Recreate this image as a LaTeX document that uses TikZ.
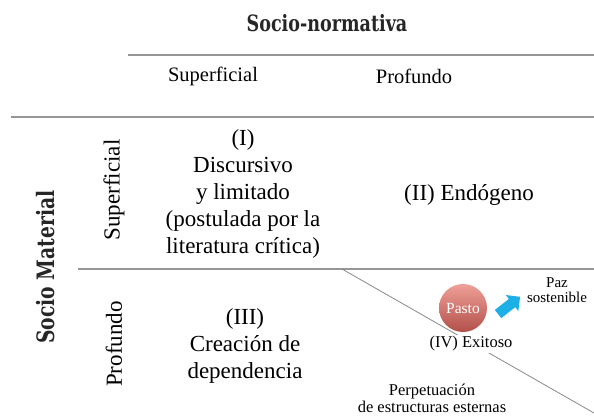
\documentclass[tikz,border=0pt]{standalone}
\usepackage{fontspec}
\setmainfont{Liberation Serif}
\newfontfamily\slabfont[FakeStretch=0.78]{DejaVu Serif}
\usepackage{tikz}
\usetikzlibrary{shapes.arrows}

\definecolor{rulegray}{RGB}{150,150,150}
\definecolor{pastotop}{RGB}{238,160,152}
\definecolor{pastobot}{RGB}{178,80,74}
\definecolor{flechablue}{RGB}{28,176,230}

\tikzset{
  cell/.style={align=center, font=\fontsize{23}{27}\selectfont},
  colhead/.style={font=\fontsize{20.5}{24}\selectfont},
  head/.style={font=\slabfont\bfseries\fontsize{22.5}{24}\selectfont, text=black!85},
  small/.style={align=center, font=\fontsize{16.5}{17}\selectfont}
}

\begin{document}
\begin{tikzpicture}[x=1pt,y=-1pt]
    \useasboundingbox (0,0) rectangle (594,416);

    % rules of the table
    \draw[rulegray, line width=1.2] (128,55) -- (594,55);
    \draw[rulegray, line width=1.2] (11,117) -- (594,117);
    \draw[rulegray, line width=1.2] (78,269) -- (594,269);
    \draw[rulegray!90!black, line width=0.8] (342,269) -- (594,413);

    % headers
    \node[head] (socnorm) at (327,23) {Socio-normativa};
    \node[colhead] (colsup) at (213,76) {Superficial};
    \node[colhead] (colpro) at (414,76) {Profundo};
    \node[head, font=\slabfont\bfseries\fontsize{24}{24}\selectfont, rotate=90] (socmat) at (46,267) {Socio Material};
    \node[cell, rotate=90] (rowsup) at (114,190) {Superficial};
    \node[cell, rotate=90] (rowpro) at (114,344) {Profundo};

    % cells
    \node[cell] (celli) at (243,194) {(I)\\Discursivo\\y limitado\\(postulada por la\\literatura crítica)};
    \node[cell] (cellii) at (469,195) {(II) Endógeno};
    \node[cell] (celliii) at (245,346) {(III)\\Creación de\\dependencia};

    % cell IV
    \node[small, fill=white, inner sep=2] (exitoso) at (471,344) {(IV) Exitoso};
    \node[circle, minimum size=48, top color=pastotop, bottom color=pastobot,
          text=white, font=\fontsize{15.5}{15}\selectfont] (pasto) at (463,308) {Pasto};
    \node[single arrow, fill=flechablue, minimum height=28, inner sep=5,
          single arrow head extend=5, rotate=38] (flecha) at (507,307) {};
    \node[small, font=\fontsize{15}{15}\selectfont] (paz) at (557,290) {Paz\\sostenible};
    \node[small] (perpet) at (432,398) {Perpetuación\\de estructuras esternas};
\end{tikzpicture}
\end{document}
